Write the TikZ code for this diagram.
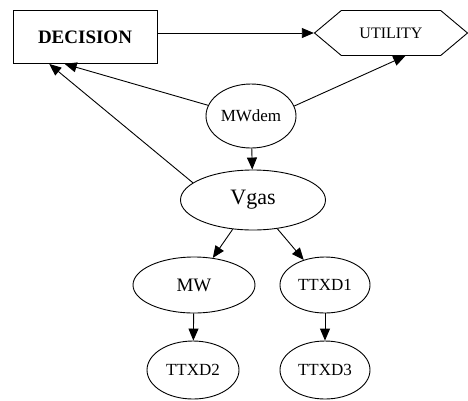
\documentclass[tikz,border=0pt]{standalone}
\usepackage{fontspec}
\setmainfont{Liberation Serif}
\usepackage{tikz}
\usetikzlibrary{positioning,shapes.geometric,shapes.symbols,arrows.meta}

\tikzset{
    chance/.style={shape=ellipse, draw=black, inner sep=0pt, line width=0.9pt},
    decision/.style={shape=rectangle, draw=black, inner sep=0pt, line width=0.9pt},
    utility/.style={shape=signal, signal to=west and east, signal pointer angle=80,
        draw=black, inner sep=0pt, line width=0.9pt},
}

\begin{document}
\begin{tikzpicture}[x=1pt, y=-1pt, line width=0.9pt, >={Triangle[length=12pt,width=10pt]}]
    \useasboundingbox (0,0) rectangle (468,400);

    \node[decision, minimum width=144pt, minimum height=53pt,
        font=\fontsize{19}{21}\selectfont\bfseries] (dec) at (85,37) {DECISION};
    \node[utility, minimum width=153pt, minimum height=45pt,
        font=\fontsize{16}{18}\selectfont] (util) at (391,33) {UTILITY};

    \node[chance, minimum width=90pt, minimum height=64pt,
        font=\fontsize{17}{19}\selectfont] (mwdem) at (251,116) {MWdem};
    \node[chance, minimum width=145pt, minimum height=60pt,
        font=\fontsize{22}{24}\selectfont] (vgas) at (253,200) {Vgas};
    \node[chance, minimum width=122pt, minimum height=56pt,
        font=\fontsize{19}{21}\selectfont] (mw) at (194,285) {MW};
    \node[chance, minimum width=90pt, minimum height=56pt,
        font=\fontsize{17}{19}\selectfont] (ttxd1) at (325,285) {TTXD1};
    \node[chance, minimum width=92pt, minimum height=58pt,
        font=\fontsize{17}{19}\selectfont] (ttxd2) at (193,370) {TTXD2};
    \node[chance, minimum width=90pt, minimum height=58pt,
        font=\fontsize{17}{19}\selectfont] (ttxd3) at (325,370) {TTXD3};

    \draw[->] (dec.east |- util.west) -- (util.west);
    \draw[->] (mwdem.166) -- (dec.233);
    \draw[->] (vgas.164) -- (dec.217);
    \draw[->] (mwdem.13) -- (util.302);
    \draw[->] (mwdem) -- (vgas);
    \draw[->] (vgas) -- (mw);
    \draw[->] (vgas) -- (ttxd1);
    \draw[->] (mw) -- (ttxd2);
    \draw[->] (ttxd1) -- (ttxd3);
\end{tikzpicture}
\end{document}
